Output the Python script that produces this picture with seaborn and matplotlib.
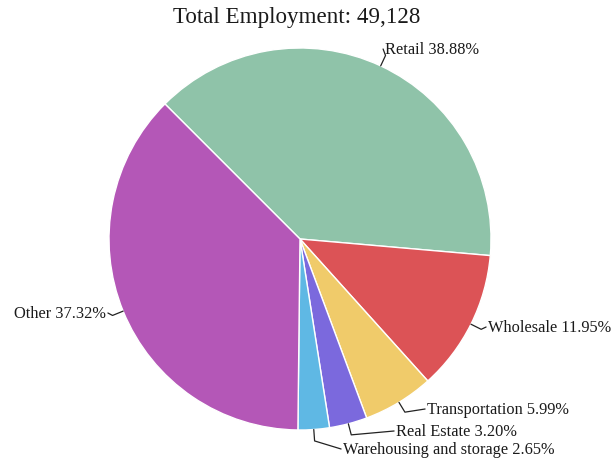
import numpy as np
import matplotlib
matplotlib.use("Agg")
from matplotlib import pyplot as plt
import seaborn as sns

# data, in clockwise order starting at the upper left
sectors = ["Retail", "Wholesale", "Transportation", "Real Estate",
           "Warehousing and storage", "Other"]
shares = [38.88, 11.95, 5.99, 3.20, 2.65, 37.32]
total_employment = 49128
colours = ["#8fc3a9", "#dc5356", "#f0cb6a", "#7b69dd", "#5fb8e4", "#b457b7"]

sns.set_theme(style="white")
plt.rcParams['font.family'] = ['Liberation Serif', 'DejaVu Serif']

W, H = 611, 460
cx, cy, R = 300, 240, 191

fig = plt.figure(figsize=(W / 100, H / 100), dpi=100)
ax = fig.add_axes([(cx - R) / W, (H - cy - R) / H, 2 * R / W, 2 * R / H])
start = 135
wedges, _ = ax.pie(shares, colors=sns.color_palette(colours), startangle=start,
                   counterclock=False, radius=1,
                   wedgeprops=dict(edgecolor="white", linewidth=1))
ax.set_xlim(-1, 1)
ax.set_ylim(-1, 1)
ax.set_aspect("equal")
ax.axis("off")


def px2data(px, py):
    return (px - cx) / R, (cy - py) / R


# text anchor in pixels (x, y, ha)
label_pos = {
    "Retail": (385, 50, "left"),
    "Wholesale": (488, 328, "left"),
    "Transportation": (427, 410, "left"),
    "Real Estate": (396, 432, "left"),
    "Warehousing and storage": (343, 450, "left"),
    "Other": (106, 314, "right"),
}

for w, name, s in zip(wedges, sectors, shares):
    mid = np.deg2rad((w.theta1 + w.theta2) / 2)
    x0, y0 = np.cos(mid), np.sin(mid)
    x1, y1 = 1.06 * x0, 1.06 * y0
    px, py, ha = label_pos[name]
    tx, ty = px2data(px, py)
    ex = tx - 0.01 if ha == "left" else tx + 0.01
    ax.plot([x0, x1, ex], [y0, y1, ty], color="#222222", lw=0.9,
            clip_on=False, solid_capstyle="round")
    ax.text(tx, ty, f"{name} {s:.2f}%", ha=ha, va="center", fontsize=11.8,
            color="#1a1a1a", clip_on=False)

fig.text(297 / W, 1 - 18 / H, f"Total Employment: {total_employment:,}",
         ha="center", va="center", fontsize=16.6, color="#1a1a1a")

fig.savefig("out.png", dpi=100, facecolor="white")
